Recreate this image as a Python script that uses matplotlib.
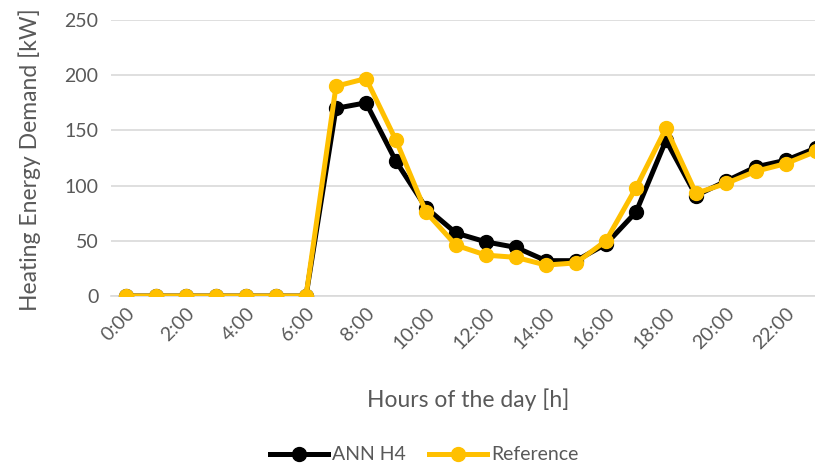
import matplotlib
matplotlib.use("Agg")
import matplotlib.pyplot as plt

hours = [f"{h}:00" for h in range(24)]
ann_h4 = [0, 0, 0, 0, 0, 0, 0, 170, 175, 122, 80, 57, 49, 44, 32, 32, 47, 76, 141, 91, 104, 117, 123, 134]
reference = [0, 0, 0, 0, 0, 0, 0, 190, 197, 141, 76, 46, 37, 35, 28, 30, 50, 98, 152, 93, 102, 113, 120, 131]
yticks = [0, 50, 100, 150, 200, 250]

plt.rcParams['font.family'] = ['Lato', 'DejaVu Sans']
gray = '#595959'

fig = plt.figure(figsize=(8.15, 4.66), dpi=100)
ax = fig.add_axes([111/815, (466-296)/466, 720/815, 276/466])

x = list(range(len(hours)))
ax.plot(x, ann_h4, color='black', lw=3.6, marker='o', ms=10, label='ANN H4', zorder=3, solid_joinstyle='round')
ax.plot(x, reference, color='#FFC000', lw=3.6, marker='o', ms=10, label='Reference', zorder=4, solid_joinstyle='round')

ax.set_xlim(-0.5, 23.5)
ax.set_ylim(0, 250)
ax.set_yticks(yticks)
ax.set_yticklabels([str(v) for v in yticks], fontsize=14, color=gray)
ax.set_xticks(x[::2])
ax.set_xticklabels(hours[::2], rotation=45, ha='right', va='top', fontsize=14, color=gray,
                   rotation_mode='anchor')
ax.tick_params(axis='both', length=0, pad=9)
ax.tick_params(axis='x', pad=6)
ax.grid(axis='y', color='#D9D9D9', lw=1.2)
ax.set_axisbelow(True)
for s in ['top', 'right', 'left']:
    ax.spines[s].set_visible(False)
ax.spines['bottom'].set_color('#D9D9D9')
ax.spines['bottom'].set_linewidth(1.2)

fig.text(30/815, 1 - 160/466, 'Heating Energy Demand [kW]', rotation=90, ha='center', va='center',
         fontsize=16.5, color=gray)
fig.text(468/815, 1 - 400/466, 'Hours of the day [h]', ha='center', va='center', fontsize=16.5, color=gray)

leg = fig.legend(loc='center', bbox_to_anchor=(424/815, 1 - 455/466), ncol=2, frameon=False,
                 fontsize=14, handlelength=3, columnspacing=1.2, handletextpad=0.2, labelcolor=gray)

fig.savefig('out.png', dpi=100)
